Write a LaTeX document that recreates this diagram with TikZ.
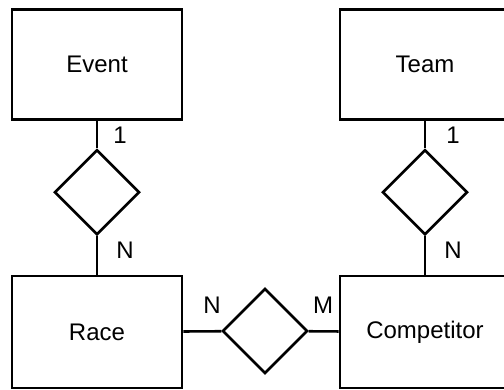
\documentclass[tikz,border=0pt]{standalone}
\usepackage{fontspec}
\setmainfont{Liberation Sans}
\usetikzlibrary{calc}
\usetikzlibrary{shapes.geometric,positioning}

\tikzset{
  entity/.style={draw, line width=1.3pt, minimum width=85pt, minimum height=55pt, inner sep=0pt},
  relation/.style={draw, diamond, line width=1.3pt, aspect=1, minimum size=42.5pt, inner sep=0pt},
  card/.style={inner sep=0pt},
  link/.style={line width=1.3pt}
}

\begin{document}
\begin{tikzpicture}[x=0.5pt, y=-0.5pt, font=\fontsize{12}{14}\selectfont]
  \clip (0, 0) rectangle (504, 390);
  \coordinate(E) at (97, 64.5);
  \coordinate(T) at (425, 64.5);
  \coordinate(R) at (97, 332);
  \coordinate(C) at (425, 332);

\node[entity] (event) at (E) {Event};
\node[entity] (team) at (T) {Team};
\node[entity, minimum height=56pt] (race) at (R) {Race};
\node[entity, minimum height=56pt] (competitor) at (C) {Competitor};

\node[relation] (holds) at ($(E)!.5!(R) + (0, -6)$) {};
\node[relation] (has) at ($(T)!.5!(C) + (0, -6)$) {};
\node[relation] (runs) at ($(R)!.5!(C) + (4, -1)$) {};

\draw[link] (event) -- (holds) (holds) -- (race);
\draw[link] (team) -- (has) (has) -- (competitor);
\draw[link] (race) -- (runs) (runs) -- (competitor);

\node[card] (e1) at (120, 135) {1};
\node[card] (en) at (125, 250) {N};
\node[card] (t1) at (453, 135) {1};
\node[card] (tn) at (453, 250) {N};
\node[card] (rn) at (212, 305) {N};
\node[card] (cm) at (323, 305) {M};
\end{tikzpicture}
\end{document}
